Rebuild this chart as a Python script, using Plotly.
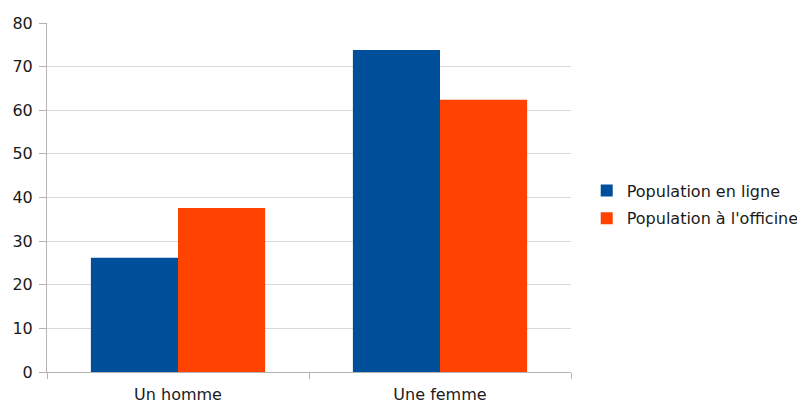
import plotly.graph_objects as go

categories = ["Un homme", "Une femme"]
series_names = ["Population en ligne", "Population à l'officine"]
en_ligne = [26.2, 73.8]
officine = [37.6, 62.4]
y_ticks = [0, 10, 20, 30, 40, 50, 60, 70, 80]

colors = ["#004f9b", "#ff4200"]

fig = go.Figure()
for i, (name, vals, c) in enumerate(zip(series_names, [en_ligne, officine], colors)):
    fig.add_trace(go.Bar(x=categories, y=vals, name=name, legendgroup=f"g{i}",
                         marker=dict(color=c, line=dict(width=0))))

font = "DejaVu Sans, Arial, sans-serif"
fig.update_layout(
    width=797, height=395,
    margin=dict(l=39, r=234, t=15, b=31, autoexpand=False),
    paper_bgcolor="white", plot_bgcolor="white",
    barmode="group", bargap=0.335, bargroupgap=0,
    font=dict(family=font, size=16, color="#1a1a1a"),
    showlegend=True,
    legend=dict(x=1.03, y=0.48, xanchor="left", yanchor="middle",
                font=dict(size=16, family=font, color="#1a1a1a"),
                traceorder="grouped", tracegroupgap=4,
                itemwidth=30, bgcolor="rgba(0,0,0,0)"),
    xaxis=dict(showline=True, linecolor="#b3b3b3", linewidth=1, automargin=False,
               ticks="outside", tickson="boundaries", ticklen=6, tickcolor="#b3b3b3",
               ticklabelstandoff=8,
               showgrid=False, tickfont=dict(size=16)),
    yaxis=dict(range=[0, 80], tickvals=y_ticks, showline=True, linecolor="#b3b3b3", linewidth=1,
               automargin=False,
               ticks="outside", ticklen=7, tickcolor="#b3b3b3", ticklabelstandoff=3,
               gridcolor="#d9d9d9", gridwidth=1, zeroline=False,
               tickfont=dict(size=16)),
)
fig.write_html("out.html")
